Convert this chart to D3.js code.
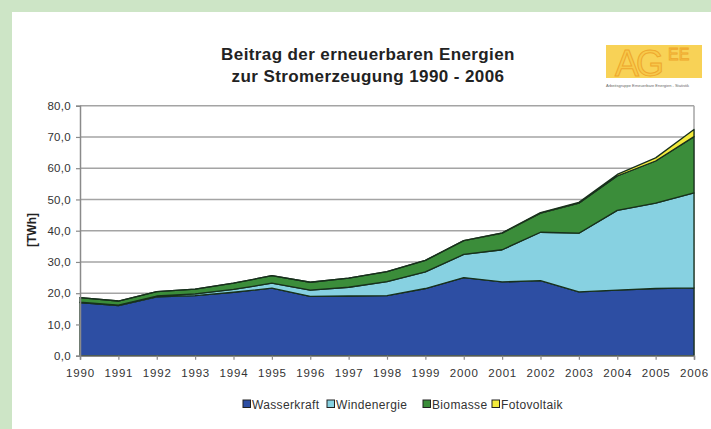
<!DOCTYPE html>
<html>
<head>
<meta charset="utf-8">
<script src="https://cdn.jsdelivr.net/npm/d3@7"></script>
<style>
  body { margin: 0; background: #cde5c6; }
  svg { display: block; font-family: Arial, "Liberation Sans", sans-serif; }
</style>
</head>
<body>
<div id="chart"></div>
<script>
const width = 711;
const height = 429;
const margin = { top: 105.7, right: 17, bottom: 73.3, left: 80 };

// data (TWh)
const years = [1990, 1991, 1992, 1993, 1994, 1995, 1996, 1997, 1998, 1999, 2000, 2001, 2002, 2003, 2004, 2005, 2006];
const wasserkraft = [17.0, 16.0, 18.8, 19.2, 20.3, 21.6, 19.0, 19.1, 19.2, 21.5, 25.0, 23.6, 24.0, 20.4, 21.0, 21.5, 21.7];
const windenergie = [0.1, 0.2, 0.3, 0.6, 0.9, 1.6, 2.0, 2.8, 4.5, 5.3, 7.4, 10.3, 15.5, 18.8, 25.5, 27.3, 30.4];
const biomasse = [1.5, 1.3, 1.4, 1.5, 2.0, 2.4, 2.5, 2.9, 3.2, 3.7, 4.4, 5.3, 6.1, 9.6, 11.0, 13.5, 18.0];
const fotovoltaik = [0.0, 0.0, 0.0, 0.0, 0.0, 0.0, 0.0, 0.0, 0.0, 0.0, 0.05, 0.1, 0.2, 0.3, 0.5, 1.0, 2.3];

const seriesNames = ["Wasserkraft", "Windenergie", "Biomasse", "Fotovoltaik"];
const seriesColors = ["#2d4ea3", "#87d1e1", "#3b8d3a", "#f3ea3c"];
const yTicks = [0, 10, 20, 30, 40, 50, 60, 70, 80];

const rows = years.map((y, i) => ({
    year: y,
    Wasserkraft: wasserkraft[i],
    Windenergie: windenergie[i],
    Biomasse: biomasse[i],
    Fotovoltaik: fotovoltaik[i]
}));

const svg = d3.select("#chart")
    .append("svg")
    .attr("width", width)
    .attr("height", height);

// green frame + white panel
svg.append("rect").attr("width", width).attr("height", height).attr("fill", "#cde5c6");
svg.append("rect")
    .attr("x", 12).attr("y", 12)
    .attr("width", width - 12).attr("height", height - 12)
    .attr("fill", "#fff");

const plotWidth = width - margin.left - margin.right;
const plotHeight = height - margin.top - margin.bottom;

const plot = svg.append("g")
    .attr("transform", `translate(${margin.left},${margin.top})`);

const x = d3.scaleLinear().domain([1990, 2006]).range([0, plotWidth]);
const y = d3.scaleLinear().domain([0, 80]).range([plotHeight, 0]);
const color = d3.scaleOrdinal().domain(seriesNames).range(seriesColors);

// gridlines
plot.selectAll(".grid")
    .data(yTicks.filter(d => d > 0))
    .enter()
    .append("line")
    .attr("x1", 0).attr("x2", plotWidth)
    .attr("y1", d => y(d)).attr("y2", d => y(d))
    .attr("stroke", "#a4a4a4")
    .attr("stroke-width", 1.5);

plot.append("line")
    .attr("x1", plotWidth).attr("x2", plotWidth)
    .attr("y1", 0).attr("y2", plotHeight)
    .attr("stroke", "#a4a4a4")
    .attr("stroke-width", 1.5);

// stacked areas
const stack = d3.stack().keys(seriesNames);
const layers = stack(rows);

const area = d3.area()
    .x(d => x(d.data.year))
    .y0(d => y(d[0]))
    .y1(d => y(d[1]));

plot.selectAll(".layer")
    .data(layers)
    .enter()
    .append("path")
    .attr("class", "layer")
    .attr("d", area)
    .attr("fill", d => color(d.key))
    .attr("stroke", "#17301c")
    .attr("stroke-width", 1.3)
    .attr("stroke-linejoin", "round");

// axes
const yAxis = d3.axisLeft(y)
    .tickValues(yTicks)
    .tickSize(4)
    .tickPadding(5)
    .tickFormat(d => d3.format(".1f")(d).replace(".", ","));

const yAxisGroup = plot.append("g").call(yAxis);

const xAxis = d3.axisBottom(x)
    .tickValues(years)
    .tickSize(4)
    .tickPadding(9)
    .tickFormat(d3.format("d"));

const xAxisGroup = plot.append("g")
    .attr("transform", `translate(0,${plotHeight})`)
    .call(xAxis);

[yAxisGroup, xAxisGroup].forEach(g => {
    g.select(".domain").attr("stroke", "#8a8a8a").attr("stroke-width", 1.5);
    g.selectAll(".tick line").attr("stroke", "#8a8a8a").attr("stroke-width", 1.2);
    g.selectAll(".tick text")
        .style("font-size", "11.5px")
        .style("font-family", "Arial, 'Liberation Sans', sans-serif")
        .attr("fill", "#333");
});
xAxisGroup.selectAll(".tick text").style("letter-spacing", "0.8px");
yAxisGroup.selectAll(".tick text").style("letter-spacing", "0.3px");

// y label
svg.append("text")
    .attr("transform", "rotate(-90)")
    .attr("x", -230)
    .attr("y", 36)
    .attr("text-anchor", "middle")
    .style("font-size", "12px")
    .style("font-weight", "bold")
    .attr("fill", "#222")
    .text("[TWh]");

// title
const title = svg.append("text")
    .attr("text-anchor", "middle")
    .style("font-size", "17px")
    .style("font-weight", "bold")
    .style("letter-spacing", "0.4px")
    .attr("fill", "#222");
title.append("tspan").attr("x", 368).attr("y", 60).text("Beitrag der erneuerbaren Energien");
title.append("tspan").attr("x", 368).attr("y", 82).text("zur Stromerzeugung 1990 - 2006");

// logo
const logo = svg.append("g").attr("transform", "translate(606,45)");
logo.append("rect")
    .attr("width", 96).attr("height", 33)
    .attr("fill", "#f8d256");
logo.append("text")
    .attr("x", 9).attr("y", 31)
    .style("font-size", "36px")
    .style("letter-spacing", "-3px")
    .attr("fill", "#f7c94a")
    .attr("stroke", "#eea72c")
    .attr("stroke-width", 1)
    .text("AG");
logo.append("text")
    .attr("x", 62).attr("y", 15)
    .style("font-size", "16px")
    .attr("fill", "#f7c94a")
    .attr("stroke", "#eea72c")
    .attr("stroke-width", 0.8)
    .text("EE");
logo.append("text")
    .attr("x", 0).attr("y", 42)
    .style("font-size", "4px")
    .attr("fill", "#666")
    .text("Arbeitsgruppe Erneuerbare Energien - Statistik");

// legend
const legendItems = [
    { name: "Wasserkraft", x: 243 },
    { name: "Windenergie", x: 327 },
    { name: "Biomasse", x: 423 },
    { name: "Fotovoltaik", x: 492 }
];

const legend = svg.append("g").attr("transform", "translate(0,400)");
legendItems.forEach(item => {
    legend.append("rect")
        .attr("x", item.x).attr("y", 0)
        .attr("width", 7.5).attr("height", 7.5)
        .attr("fill", color(item.name))
        .attr("stroke", "#222")
        .attr("stroke-width", 1);
    legend.append("text")
        .attr("x", item.x + 9).attr("y", 8.5)
        .style("font-size", "12px")
        .style("letter-spacing", "0.35px")
        .attr("fill", "#333")
        .text(item.name);
});
</script>
</body>
</html>
